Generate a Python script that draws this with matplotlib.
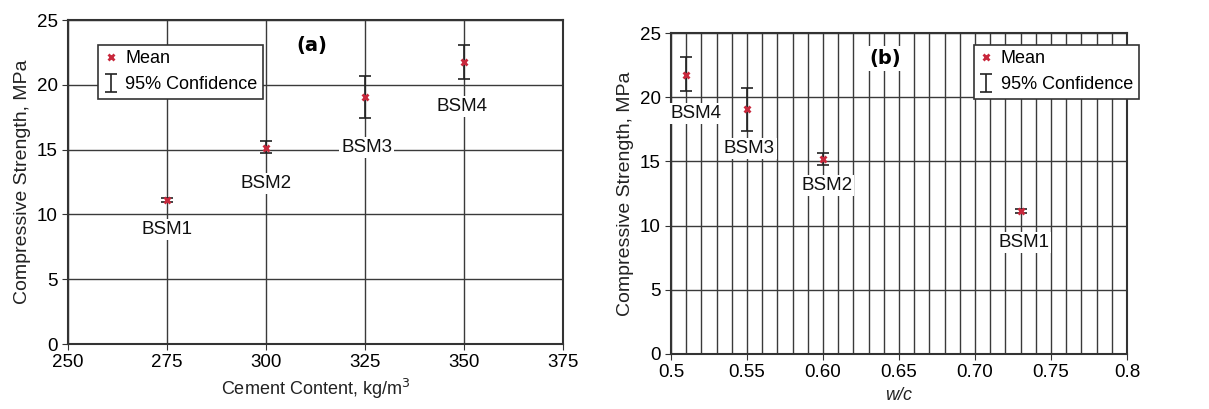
import numpy as np
import matplotlib
matplotlib.use("Agg")
import matplotlib.pyplot as plt

plt.rcParams['font.family'] = ['Liberation Sans', 'DejaVu Sans']

# donnees
mixes = ["BSM1", "BSM2", "BSM3", "BSM4"]
cement = [275, 300, 325, 350]
wc = [0.73, 0.60, 0.55, 0.51]
mean_strength = [11.1, 15.15, 19.05, 21.75]
ci_low = [10.95, 14.7, 17.4, 20.45]
ci_high = [11.3, 15.65, 20.7, 23.1]

# positions des etiquettes (coordonnees donnees)
label_a = [(275, 8.85), (300, 12.4), (325.5, 15.15), (349.4, 18.3)]
label_b = [(0.732, 8.7), (0.6025, 13.1), (0.5515, 16.0), (0.5165, 18.75)]

red = "#c8283c"
grid_col = "#3a3a3a"

fig = plt.figure(figsize=(12.09, 4.09), dpi=100)
ax1 = fig.add_axes([0.0562, 0.1589, 0.4094, 0.7922])
ax2 = fig.add_axes([0.555, 0.1345, 0.3772, 0.7848])

yerr = [np.array(mean_strength) - np.array(ci_low),
        np.array(ci_high) - np.array(mean_strength)]


def draw(ax, x, labels, xlim, xticks, xticklabels, tag, tagpos, legloc):
    ax.plot(x, mean_strength, 'x', color=red, ms=5, mew=2, label='Mean', zorder=5)
    ax.errorbar(x, mean_strength, yerr=yerr, fmt='none', ecolor='#222222',
                elinewidth=1.2, capsize=4, capthick=1.2, label='95% Confidence', zorder=4)
    for name, (lx, ly) in zip(mixes, labels):
        ax.text(lx, ly, name, ha='center', va='center', fontsize=13.5, color='#111111',
                bbox=dict(facecolor='white', edgecolor='none', pad=1.5), zorder=3)
    ax.set_xlim(*xlim)
    ax.set_ylim(0, 25)
    ax.set_xticks(xticks)
    ax.set_xticklabels(xticklabels)
    ax.set_yticks(range(0, 26, 5))
    ax.tick_params(labelsize=13.5, length=4, color='#333333')
    ax.grid(True, which='both', color=grid_col, lw=1.0)
    ax.set_axisbelow(True)
    for s in ax.spines.values():
        s.set_color('#333333')
        s.set_linewidth(1.5)
    ax.set_ylabel("Compressive Strength, MPa", fontsize=14, color='#222222')
    ax.text(tagpos[0], tagpos[1], tag, transform=ax.transAxes, ha='center', va='center',
            fontsize=14, fontweight='bold', family='DejaVu Sans',
            bbox=dict(facecolor='white', edgecolor='none', pad=2), zorder=3)
    h, l = ax.get_legend_handles_labels()
    order = [l.index('Mean'), l.index('95% Confidence')]
    leg = ax.legend([h[i] for i in order], [l[i] for i in order], loc='upper left',
                    bbox_to_anchor=legloc, borderaxespad=0,
                    fontsize=13, fancybox=False, framealpha=1, edgecolor='#333333',
                    handlelength=0.8, handletextpad=0.4, borderpad=0.3, labelspacing=0.5)
    leg.get_frame().set_linewidth(1.2)
    leg.set_zorder(6)
    return ax


draw(ax1, cement, label_a, (250, 375), [250, 275, 300, 325, 350, 375],
     ["250", "275", "300", "325", "350", "375"], "(a)", (0.492, 0.92), (0.0606, 0.923))
ax1.set_xlabel("Cement Content, kg/m$^3$", fontsize=13, color='#222222')

draw(ax2, wc, label_b, (0.5, 0.8), [0.5, 0.55, 0.6, 0.65, 0.7, 0.75, 0.8],
     ["0.5", "0.55", "0.60", "0.65", "0.70", "0.75", "0.8"], "(b)", (0.47, 0.92), (0.664, 0.963))
ax2.set_xticks(np.arange(0.5, 0.801, 0.01), minor=True)
ax2.tick_params(which='minor', length=0)
ax2.set_xlabel("w/c", fontsize=13, style='italic', color='#222222')

plt.savefig("out.png", dpi=100)
